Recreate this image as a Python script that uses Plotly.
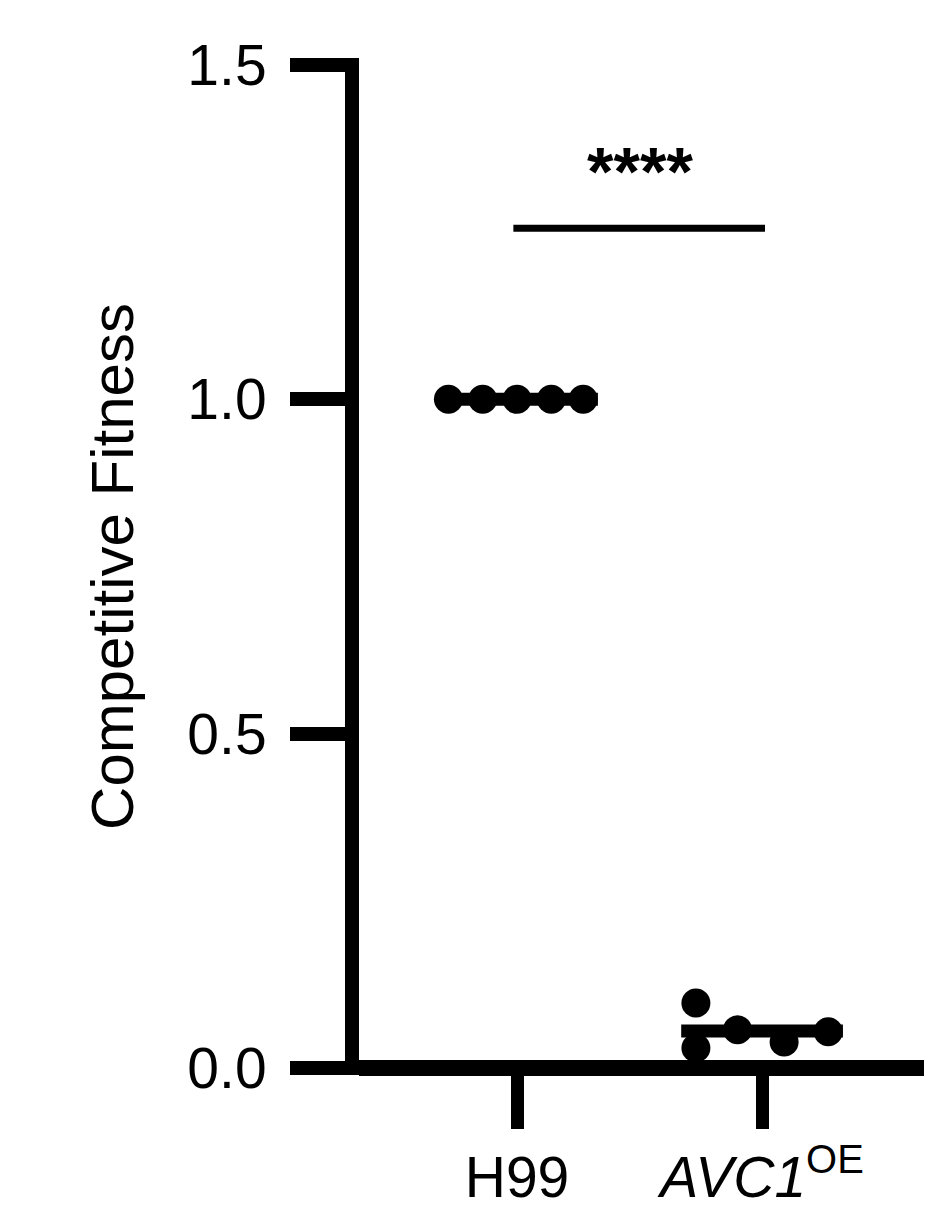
"""Competitive fitness scatter: H99 vs AVC1 overexpression."""
import numpy as np
import plotly.graph_objects as go

# ---- data ----
group_labels = ["H99", "<i>AVC1</i><sup>OE</sup>"]
h99_fitness = [1.0, 1.0, 1.0, 1.0, 1.0]
avc1_fitness = [0.097, 0.030, 0.057, 0.039, 0.054]
# horizontal scatter of the dots within each column (category units)
h99_jitter = [-0.28, -0.14, 0.0, 0.14, 0.27]
avc1_jitter = [-0.27, -0.27, -0.10, 0.09, 0.27]
y_ticks = [0.0, 0.5, 1.0, 1.5]
sig_label = "****"
sig_height = 1.256

FONT = "Arial, Liberation Sans, sans-serif"
BLACK = "#000000"
AXIS_W = 14

fig = go.Figure()

for idx, (vals, jit) in enumerate([(h99_fitness, h99_jitter), (avc1_fitness, avc1_jitter)]):
    mean = float(np.mean(vals))
    fig.add_trace(go.Scatter(
        x=[idx - 0.33, idx + 0.33], y=[mean, mean],
        mode="lines", line=dict(color=BLACK, width=13),
        hoverinfo="skip", showlegend=False,
    ))
    fig.add_trace(go.Scatter(
        x=[idx + j for j in jit], y=vals,
        mode="markers", marker=dict(color=BLACK, size=29, line=dict(width=0)),
        showlegend=False, cliponaxis=False,
    ))

# significance bracket
fig.add_trace(go.Scatter(
    x=[-0.015, 1.012], y=[sig_height, sig_height], mode="lines",
    line=dict(color=BLACK, width=7), hoverinfo="skip", showlegend=False,
))
fig.add_annotation(
    x=0.5, y=sig_height + 0.085, text=f"<b>{sig_label}</b>", showarrow=False,
    font=dict(family=FONT, size=68, color=BLACK), yanchor="middle",
)

# the page body adds an 8px offset, so the figure is a little smaller than the window
fig.update_layout(
    width=924, height=1216,
    margin=dict(l=351, r=7, t=50, b=149),
    plot_bgcolor="white", paper_bgcolor="white",
    font=dict(family=FONT, size=57, color=BLACK),
)
fig.update_xaxes(
    range=[-0.645, 1.665], tickvals=[0, 1], ticktext=group_labels,
    showline=False, ticks="outside", ticklen=53, tickwidth=13, tickcolor=BLACK,
    showgrid=False, zeroline=False, automargin=False,
)
# range padded by half the axis width at both ends so the axis corners close
fig.update_yaxes(
    range=[-0.0105, 1.5105], tickvals=y_ticks, tickformat=".1f",
    title=dict(text="Competitive Fitness", standoff=40,
               font=dict(family=FONT, size=60, color=BLACK)),
    showline=True, linecolor=BLACK, linewidth=AXIS_W,
    ticks="outside", ticklen=55, tickwidth=14, tickcolor=BLACK,
    ticklabelstandoff=12,
    showgrid=False, zeroline=True, zerolinecolor=BLACK, zerolinewidth=AXIS_W + 2,
)

fig.write_html("out.html")
